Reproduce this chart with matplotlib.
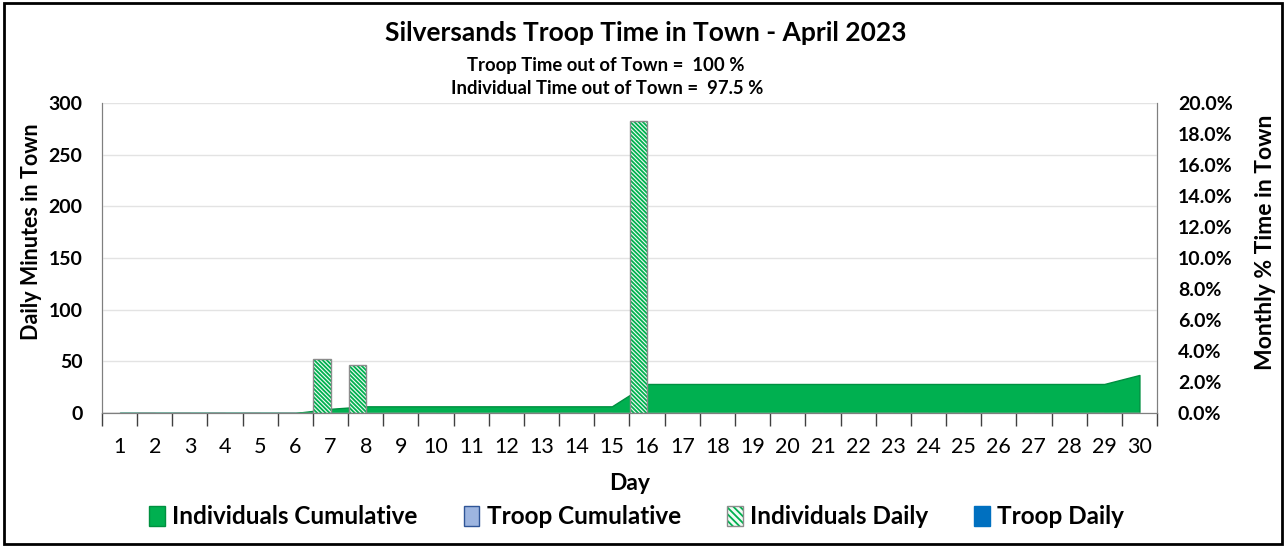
import matplotlib.pyplot as plt
import matplotlib.patches as mpatches
from matplotlib.ticker import PercentFormatter, MultipleLocator, FixedLocator

plt.rcParams['font.family'] = ['Lato', 'DejaVu Sans']
plt.rcParams['hatch.linewidth'] = 1.3

# data
days = list(range(1, 31))
ind_daily = [0, 0, 0, 0, 0, 0, 52, 46, 0, 0, 0, 0, 0, 0, 0,
             282, 0, 0, 0, 0, 0, 0, 0, 0, 0, 0, 0, 0, 0, 0]
troop_daily = [0] * 30
ind_cum_pct = [0.0, 0.0, 0.0, 0.0, 0.0, 0.0, 0.27, 0.43, 0.43, 0.43,
               0.43, 0.43, 0.43, 0.43, 0.43, 1.87, 1.87, 1.87, 1.87, 1.87,
               1.87, 1.87, 1.87, 1.87, 1.87, 1.87, 1.87, 1.87, 1.87, 2.45]
troop_cum_pct = [0.0] * 30

GREEN = "#00B050"
LIGHT_BLUE = "#9DB5E0"
DARK_BLUE = "#2F5597"
TROOP_BLUE = "#0070C0"
HATCH = "\\" * 8

fig = plt.figure(figsize=(12.86, 5.47), dpi=100)
ax = fig.add_axes([0.0793, 0.245, 0.8204, 0.567])
ax2 = ax.twinx()

# cumulative areas on the secondary axis (percent)
ax2.fill_between(days, troop_cum_pct, color=LIGHT_BLUE, edgecolor=DARK_BLUE, linewidth=1.0)
ax2.fill_between(days, ind_cum_pct, color=GREEN, edgecolor="#009040", linewidth=1.0)
ax2.set_ylim(0, 20)
ax2.yaxis.set_major_locator(MultipleLocator(2))
ax2.yaxis.set_major_formatter(PercentFormatter(decimals=1))
ax2.tick_params(axis="y", length=0, labelsize=14, pad=15)
for lab in ax2.get_yticklabels():
    lab.set_fontweight("bold")
ax2.set_ylabel("Monthly % Time in Town", fontsize=16.5, fontweight="bold", va="center")
ax2.yaxis.set_label_coords(1.0 + (1265 - 1157) / 1055, (413 - 242) / 310)

# daily bars on the primary axis, drawn above the areas
ax.set_zorder(ax2.get_zorder() + 1)
ax.patch.set_visible(False)
xs_ind = [d - 0.245 for d in days]
xs_troop = [d + 0.245 for d in days]
bars = ax.bar(xs_ind, ind_daily, width=0.49, facecolor="#F2FBF5", edgecolor="#8C8C8C",
              hatch=HATCH, linewidth=1.0)
for p in bars:
    p._hatch_color = (0.0, 0.69, 0.31, 1.0)
ax.bar(xs_troop, troop_daily, width=0.49, color=TROOP_BLUE)

ax.set_xlim(0.5, 30.5)
ax.set_ylim(0, 300)
ax.yaxis.set_major_locator(MultipleLocator(50))
ax.grid(axis="y", color="#E3E3E3", linewidth=1.0)
ax.set_axisbelow(True)
ax.set_xticks(days)
ax.set_xticklabels([str(d) for d in days], fontsize=15.5)
ax.xaxis.set_minor_locator(FixedLocator([d + 0.5 for d in range(0, 31)]))
ax.tick_params(axis="x", which="major", length=0, pad=17)
ax.tick_params(axis="x", which="minor", length=9, width=1.0, color="#404040")
ax.tick_params(axis="y", length=0, labelsize=14, pad=14)
for lab in ax.get_yticklabels():
    lab.set_fontweight("bold")
ax.set_ylabel("Daily Minutes in Town", fontsize=15.5, fontweight="bold", va="center")
ax.yaxis.set_label_coords(-(102 - 32) / 1055, (413 - 232) / 310)
ax.set_xlabel("Day", fontsize=16.5, fontweight="bold")
ax.xaxis.set_label_coords(0.5, -(483 - 413) / 310)
ax.xaxis.label.set_va("center")

for a in (ax, ax2):
    a.spines["top"].set_visible(False)
    a.spines["left"].set_color("#7F7F7F")
    a.spines["right"].set_color("#7F7F7F")
    a.spines["bottom"].set_color("#7F7F7F")

fig.text(0.502, 0.940, "Silversands Troop Time in Town - April 2023",
         ha="center", va="center", fontsize=19, fontweight="bold")
fig.text(0.471, 0.880, "Troop Time out of Town =  100 %",
         ha="center", va="center", fontsize=13.3, fontweight="bold")
fig.text(0.472, 0.838, "Individual Time out of Town =  97.5 %",
         ha="center", va="center", fontsize=13.3, fontweight="bold")

handles = [
    mpatches.Patch(facecolor=GREEN, edgecolor="#009040", label="Individuals Cumulative"),
    mpatches.Patch(facecolor=LIGHT_BLUE, edgecolor=DARK_BLUE, label="Troop Cumulative"),
    mpatches.Patch(facecolor="#F2FBF5", edgecolor="#8C8C8C", hatch="\\" * 5, label="Individuals Daily"),
    mpatches.Patch(facecolor=TROOP_BLUE, edgecolor=TROOP_BLUE, label="Troop Daily"),
]
handles[2]._hatch_color = (0.0, 0.69, 0.31, 1.0)
leg = fig.legend(handles=handles, loc="center", bbox_to_anchor=(0.495, 0.055), ncol=4,
                 frameon=False, handlelength=0.65, handleheight=0.9, handletextpad=0.3,
                 columnspacing=1.9, prop={"weight": "bold", "size": 17.5})

# outer border around the figure
fig.patches.append(mpatches.Rectangle((0.003, 0.005), 0.994, 0.99, transform=fig.transFigure,
                                      fill=False, edgecolor="black", linewidth=2.0))

fig.savefig("out.png", dpi=100)
